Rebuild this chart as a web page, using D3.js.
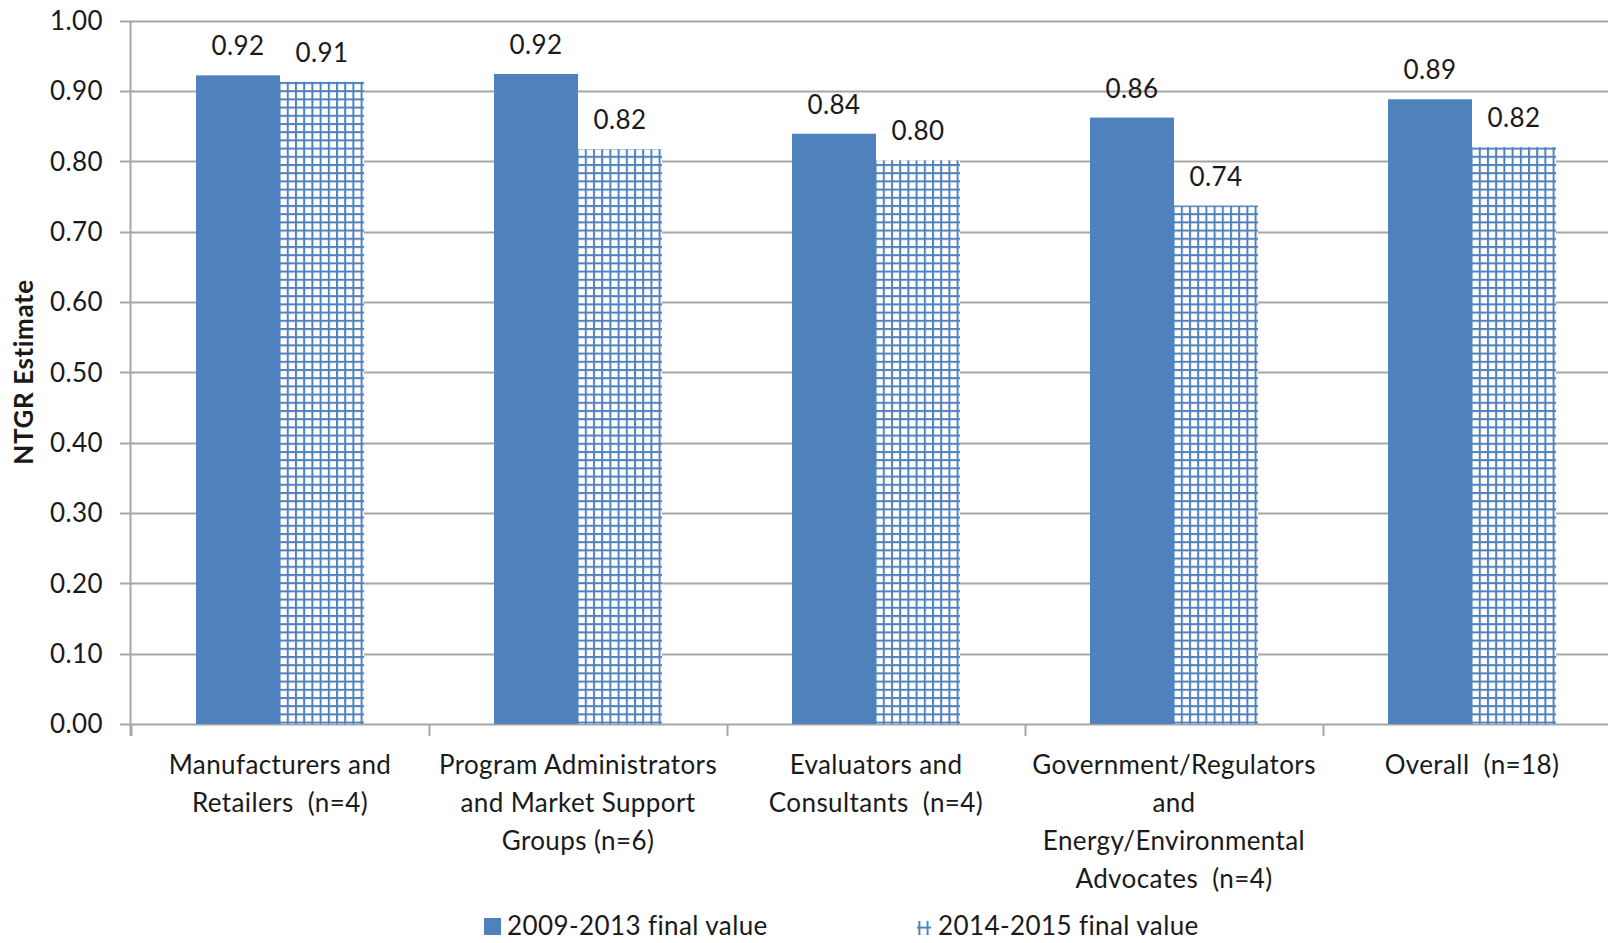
<!DOCTYPE html>
<html lang="en">
  <head>
    <meta charset="utf-8" />
    <script src="https://d3js.org/d3.v7.min.js"></script>
    <style>
      body {
        margin: 0;
        background: #fff;
        font-family: 'Lato', 'Open Sans', sans-serif;
      }
      .axis-label {
        font-size: 26px;
        letter-spacing: 0.4px;
        fill: #1a1a1a;
        white-space: pre;
      }
    </style>
  </head>
  <body>
    <div id="chart"></div>
    <script>
      // data //---------------------------------------------------------
      var categories = [
        ['Manufacturers and', 'Retailers  (n=4)'],
        ['Program Administrators', 'and Market Support', 'Groups (n=6)'],
        ['Evaluators and', 'Consultants  (n=4)'],
        ['Government/Regulators', 'and', 'Energy/Environmental', 'Advocates  (n=4)'],
        ['Overall  (n=18)'],
      ];
      var series_names = ['2009-2013 final value', '2014-2015 final value'];
      var values_2009_2013 = [0.922, 0.924, 0.839, 0.862, 0.888];
      var values_2014_2015 = [0.913, 0.817, 0.801, 0.737, 0.82];
      var y_ticks = [0, 0.1, 0.2, 0.3, 0.4, 0.5, 0.6, 0.7, 0.8, 0.9, 1.0];
      var y_title = 'NTGR Estimate';

      // layout
      var W = 1608, H = 943;
      var blue = '#4f81bd';
      var grid_col = '#a6a6a6';

      var svg = d3
        .select('#chart')
        .append('svg')
        .attr('width', W)
        .attr('height', H);

      // hatch pattern for the second series
      var pat = svg
        .append('defs')
        .append('pattern')
        .attr('id', 'grid-hatch')
        .attr('patternUnits', 'userSpaceOnUse')
        .attr('width', 8.2)
        .attr('height', 8.2);
      pat.append('rect').attr('width', 8.2).attr('height', 8.2).attr('fill', '#fff');
      pat.append('rect').attr('width', 2).attr('height', 8.2).attr('fill', blue);
      pat.append('rect').attr('width', 8.2).attr('height', 2).attr('fill', blue);

      var keys = categories.map(function (d, i) { return 'c' + i; });

      var x0 = d3.scaleBand().domain(keys).range([131, 131 + 5 * 298]);
      var x1 = d3
        .scaleBand()
        .domain(series_names)
        .range([0, x0.bandwidth()])
        .paddingInner(0)
        .paddingOuter(0.774);
      var y = d3.scaleLinear().domain([0, 1]).range([724, 20.5]);

      // gridlines
      svg
        .append('g')
        .selectAll('line')
        .data(y_ticks)
        .join('line')
        .attr('x1', 120)
        .attr('x2', W)
        .attr('y1', function (d) { return Math.round(y(d)) + 0.5; })
        .attr('y2', function (d) { return Math.round(y(d)) + 0.5; })
        .attr('stroke', grid_col)
        .attr('stroke-width', 2);

      // y axis line
      svg
        .append('line')
        .attr('x1', 130.5).attr('x2', 130.5)
        .attr('y1', y(1)).attr('y2', y(0) + 12)
        .attr('stroke', grid_col)
        .attr('stroke-width', 2);

      // category separator ticks
      svg
        .append('g')
        .selectAll('line')
        .data(keys)
        .join('line')
        .attr('x1', function (d) { return x0(d) + 0.5; })
        .attr('x2', function (d) { return x0(d) + 0.5; })
        .attr('y1', y(0))
        .attr('y2', y(0) + 12)
        .attr('stroke', grid_col)
        .attr('stroke-width', 2);

      // y tick labels
      svg
        .append('g')
        .selectAll('text')
        .data(y_ticks)
        .join('text')
        .attr('class', 'axis-label')
        .attr('x', 103)
        .attr('y', function (d) { return y(d); })
        .attr('dy', '0.36em')
        .attr('text-anchor', 'end')
        .text(d3.format('.2f'));

      // bars
      var rows = keys.map(function (k, i) {
        return [
          { key: k, s: series_names[0], v: values_2009_2013[i] },
          { key: k, s: series_names[1], v: values_2014_2015[i] },
        ];
      });

      var groups = svg
        .append('g')
        .selectAll('g')
        .data(rows)
        .join('g')
        .attr('transform', function (d) { return 'translate(' + x0(d[0].key) + ',0)'; });

      groups
        .selectAll('rect')
        .data(function (d) { return d; })
        .join('rect')
        .attr('x', function (d) { return x1(d.s); })
        .attr('y', function (d) { return y(d.v); })
        .attr('width', x1.bandwidth())
        .attr('height', function (d) { return y(0) - y(d.v); })
        .attr('fill', function (d, i) { return i === 0 ? blue : 'url(#grid-hatch)'; });

      groups
        .selectAll('text')
        .data(function (d) { return d; })
        .join('text')
        .attr('class', 'axis-label')
        .attr('x', function (d) { return x1(d.s) + x1.bandwidth() / 2; })
        .attr('y', function (d) { return y(d.v) - 20; })
        .attr('text-anchor', 'middle')
        .text(function (d) { return d3.format('.2f')(d.v); });

      // category labels
      svg
        .append('g')
        .selectAll('text')
        .data(categories)
        .join('text')
        .attr('class', 'axis-label')
        .attr('text-anchor', 'middle')
        .attr('y', 774)
        .each(function (lines, i) {
          var cx = x0(keys[i]) + x0.bandwidth() / 2;
          d3.select(this)
            .selectAll('tspan')
            .data(lines)
            .join('tspan')
            .attr('x', cx)
            .attr('dy', function (d, j) { return j === 0 ? 0 : 38; })
            .text(function (d) { return d; });
        });

      // y title
      svg
        .append('text')
        .attr('transform', 'translate(33,372) rotate(-90)')
        .attr('text-anchor', 'middle')
        .attr('font-weight', 'bold')
        .attr('font-size', 26)
        .attr('letter-spacing', 0.6)
        .attr('fill', '#1a1a1a')
        .text(y_title);

      // legend
      var legend = svg.append('g').attr('class', 'legend');
      legend
        .append('rect')
        .attr('x', 484).attr('y', 918)
        .attr('width', 17).attr('height', 17)
        .attr('fill', blue);
      legend
        .append('text')
        .attr('class', 'axis-label')
        .attr('x', 507).attr('y', 935)
        .text(series_names[0]);
      legend
        .append('rect')
        .attr('x', 917).attr('y', 921)
        .attr('width', 14).attr('height', 14)
        .attr('fill', 'url(#grid-hatch)');
      legend
        .append('text')
        .attr('class', 'axis-label')
        .attr('x', 938).attr('y', 935)
        .text(series_names[1]);
    </script>
  </body>
</html>
